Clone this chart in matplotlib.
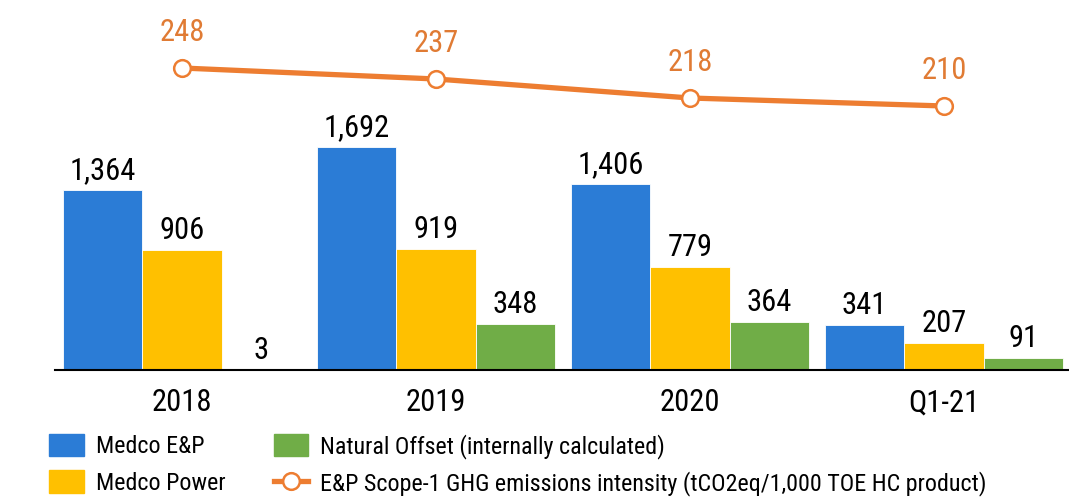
import numpy as np
import matplotlib
matplotlib.use("Agg")
import matplotlib.pyplot as plt
from matplotlib.lines import Line2D
from matplotlib.patches import Patch

# data
periods = ["2018", "2019", "2020", "Q1-21"]
medco_ep = [1364, 1692, 1406, 341]
medco_power = [906, 919, 779, 207]
natural_offset = [3, 348, 364, 91]
ghg_intensity = [248, 237, 218, 210]

BLUE = "#2B7CD6"
YELLOW = "#FFC000"
GREEN = "#70AD47"
ORANGE = "#ED7D31"
ORANGE_TXT = "#E07B34"

plt.rcParams["font.family"] = ["Roboto Condensed", "DejaVu Sans"]

W, H = 1069, 499
fig = plt.figure(figsize=(W / 100, H / 100), dpi=100)
ax = fig.add_axes([55 / W, (H - 370) / H, (W - 55) / W, 370 / H])

x = np.arange(len(periods))
bw = 0.313
series = [(medco_ep, BLUE, "Medco E&P"),
          (medco_power, YELLOW, "Medco Power"),
          (natural_offset, GREEN, "Natural Offset (internally calculated)")]
for i, (vals, col, name) in enumerate(series):
    pos = x + (i - 1) * bw
    ax.bar(pos, vals, width=bw, color=col, edgecolor="white", linewidth=0.6)
    for xp, v in zip(pos, vals):
        ax.annotate(f"{v:,}", (xp, v), xytext=(0, 11), textcoords="offset pixels",
                    ha="center", va="baseline", fontsize=22, color="black")

ax.set_xlim(-0.5, 3.492)
ax.set_ylim(0, 2803)
ax.set_xticks(x)
ax.set_xticklabels(periods, fontsize=22)
ax.tick_params(axis="x", length=0, pad=13)
ax.set_yticks([])
for s in ["left", "right", "top"]:
    ax.spines[s].set_visible(False)
ax.spines["bottom"].set_linewidth(1.5)

# emissions intensity on its own hidden scale
ax2 = ax.twinx()
ax2.plot(x, ghg_intensity, color=ORANGE, linewidth=3.8, marker="o", markersize=12,
         markerfacecolor="white", markeredgecolor=ORANGE, markeredgewidth=1.8, zorder=3)
for xp, v in zip(x, ghg_intensity):
    ax2.annotate(str(v), (xp, v), xytext=(0, 27), textcoords="offset pixels",
                 ha="center", va="baseline", fontsize=22, color=ORANGE_TXT)
ax2.set_ylim(-54, 316)
ax2.set_yticks([])
for s in ["left", "right", "top", "bottom"]:
    ax2.spines[s].set_visible(False)

handles = [Patch(color=BLUE), Patch(color=YELLOW), Patch(color=GREEN),
           Line2D([], [], color=ORANGE, linewidth=3.8, marker="o", markersize=12,
                  markerfacecolor="white", markeredgecolor=ORANGE, markeredgewidth=1.8)]
labels = ["Medco E&P", "Medco Power", "Natural Offset (internally calculated)",
          "E&P Scope-1 GHG emissions intensity (tCO2eq/1,000 TOE HC product)"]
fig.legend(handles, labels, ncol=2, loc="upper left", bbox_to_anchor=(49 / W, 1 - 434 / H),
           frameon=False, fontsize=17.3, handlelength=1.45, handleheight=1.06,
           handletextpad=0.5, columnspacing=2.0, labelspacing=0.5, borderpad=0,
           borderaxespad=0)

fig.savefig("out.png", dpi=100)
